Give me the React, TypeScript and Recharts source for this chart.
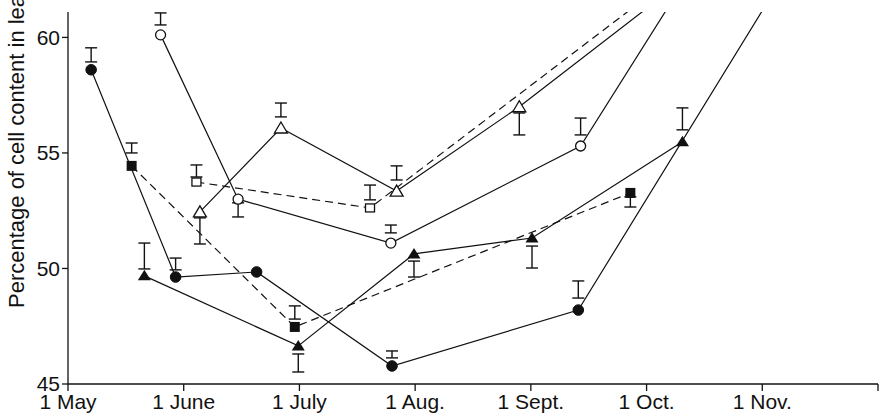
import { LineChart, Line, XAxis, YAxis, ErrorBar } from "recharts";

// x is in months after 1 May (axis ticks are evenly spaced by month)
const monthTicks = [0, 1, 2, 3, 4, 5, 6, 7];
const monthLabels = ["1 May", "1 June", "1 July", "1 Aug.", "1 Sept.", "1 Oct.", "1 Nov.", ""];
const yTicks = [45, 50, 55, 60];
const Y_MIN = 45;
const Y_MAX = 61.1;

// filled circles, solid line
const fcX = [0.2, 0.93, 1.63, 2.8, 4.41, 6.3];
const fcY = [58.6, 49.63, 49.85, 45.78, 48.2, 63.6];
const fcLo = [58.94, 49.94, null, 46.13, 48.72, null];
const fcHi = [59.55, 50.45, null, 46.43, 49.46, null];

// filled squares, dashed line
const fsX = [0.55, 1.96, 4.86];
const fsY = [54.44, 47.47, 53.27];
const fsLo = [55.0, 47.81, 52.66];
const fsHi = [55.43, 48.38, 53.1];

// filled triangles, solid line
const ftX = [0.66, 1.99, 2.99, 4.01, 5.31];
const ftY = [49.68, 46.65, 50.63, 51.32, 55.48];
const ftLo = [49.98, 45.52, 49.63, 50.02, 56.0];
const ftHi = [51.1, 46.3, 50.32, 50.97, 56.95];

// open circles, solid line
const ocX = [0.8, 1.47, 2.79, 4.43, 5.5];
const ocY = [60.11, 53.0, 51.1, 55.3, 63.8];
const ocLo = [60.54, 52.23, 51.54, 55.78, null];
const ocHi = [61.06, 52.84, 51.88, 56.51, null];

// open triangles, solid line
const otX = [1.14, 1.84, 2.84, 3.9, 5.4];
const otY = [52.45, 56.08, 53.35, 57.0, 62.8];
const otLo = [51.06, 56.56, 53.83, 55.78, null];
const otHi = [52.19, 57.16, 54.44, 56.73, null];

// open squares, dashed line
const osX = [1.11, 2.61, 5.2];
const osY = [53.74, 52.62, 62.5];
const osLo = [53.96, 52.97, null];
const osHi = [54.48, 53.61, null];

type Pt = { x: number; y: number; err?: [number, number] };

const build = (xs: number[], ys: number[], lo: (number | null)[], hi: (number | null)[]): Pt[] =>
  xs.map((x, i) => {
    const p: Pt = { x, y: ys[i] };
    const l = lo[i];
    const h = hi[i];
    if (l != null && h != null) p.err = [ys[i] - l, h - ys[i]];
    return p;
  });

const INK = "#111";
const FONT = "'Liberation Sans', Arial, sans-serif";

const makeDot = (kind: string) => (props: any) => {
  const { cx, cy, index, payload } = props;
  const key = `${kind}-${index}`;
  if (cx == null || cy == null || payload.y > Y_MAX) return <g key={key} />;
  switch (kind) {
    case "fc":
      return <circle key={key} cx={cx} cy={cy} r={5.3} fill={INK} stroke={INK} />;
    case "oc":
      return <circle key={key} cx={cx} cy={cy} r={5} fill="#fff" stroke={INK} strokeWidth={1.3} />;
    case "fs":
      return <rect key={key} x={cx - 5} y={cy - 5} width={10} height={10} fill={INK} />;
    case "os":
      return <rect key={key} x={cx - 4.5} y={cy - 4} width={9} height={8} fill="#fff" stroke={INK} strokeWidth={1.3} />;
    case "ft":
      return <path key={key} d={`M${cx - 6.5},${cy + 4.5} L${cx + 6.5},${cy + 4.5} L${cx},${cy - 6} Z`} fill={INK} />;
    default:
      return (
        <path
          key={key}
          d={`M${cx - 6.5},${cy + 5} L${cx + 6.5},${cy + 5} L${cx},${cy - 6} Z`}
          fill="#fff"
          stroke={INK}
          strokeWidth={1.3}
        />
      );
  }
};

const series = [
  { id: "fc", data: build(fcX, fcY, fcLo, fcHi), dash: undefined },
  { id: "fs", data: build(fsX, fsY, fsLo, fsHi), dash: "8 5" },
  { id: "ft", data: build(ftX, ftY, ftLo, ftHi), dash: undefined },
  { id: "oc", data: build(ocX, ocY, ocLo, ocHi), dash: undefined },
  { id: "ot", data: build(otX, otY, otLo, otHi), dash: undefined },
  { id: "os", data: build(osX, osY, osLo, osHi), dash: "8 5" },
];

const AxisTitle = () => (
  <text
    x={24}
    y={308}
    transform="rotate(-90, 24, 308)"
    fill={INK}
    style={{ fontSize: "22px", fontFamily: FONT }}
  >
    Percentage of cell content in leaves
  </text>
);

export default function App() {
  return (
    <div style={{ position: "absolute", left: 0, top: 0, background: "#fff" }}>
      <LineChart width={890} height={417} margin={{ top: 12, right: 12, bottom: 0, left: 0 }}>
        <XAxis
          type="number"
          dataKey="x"
          domain={[0, 7]}
          ticks={monthTicks}
          tickFormatter={(v) => monthLabels[v] ?? ""}
          allowDataOverflow
          height={33}
          tickSize={7}
          tickMargin={3}
          stroke={INK}
          strokeWidth={1.3}
          tick={{ fill: INK, fontSize: 21, fontFamily: FONT }}
        />
        <YAxis
          type="number"
          domain={[Y_MIN, Y_MAX]}
          ticks={yTicks}
          allowDataOverflow
          width={68}
          tickSize={6}
          tickMargin={2}
          stroke={INK}
          strokeWidth={1.3}
          tick={{ fill: INK, fontSize: 21, fontFamily: FONT }}
          label={<AxisTitle />}
        />
        {series.map((s) => (
          <Line
            key={s.id}
            data={s.data}
            dataKey="y"
            type="linear"
            stroke={INK}
            strokeWidth={1.2}
            strokeDasharray={s.dash}
            dot={makeDot(s.id)}
            activeDot={false}
            isAnimationActive={false}
          >
            <ErrorBar dataKey="err" direction="y" width={6} stroke={INK} strokeWidth={1.4} />
          </Line>
        ))}
      </LineChart>
    </div>
  );
}
